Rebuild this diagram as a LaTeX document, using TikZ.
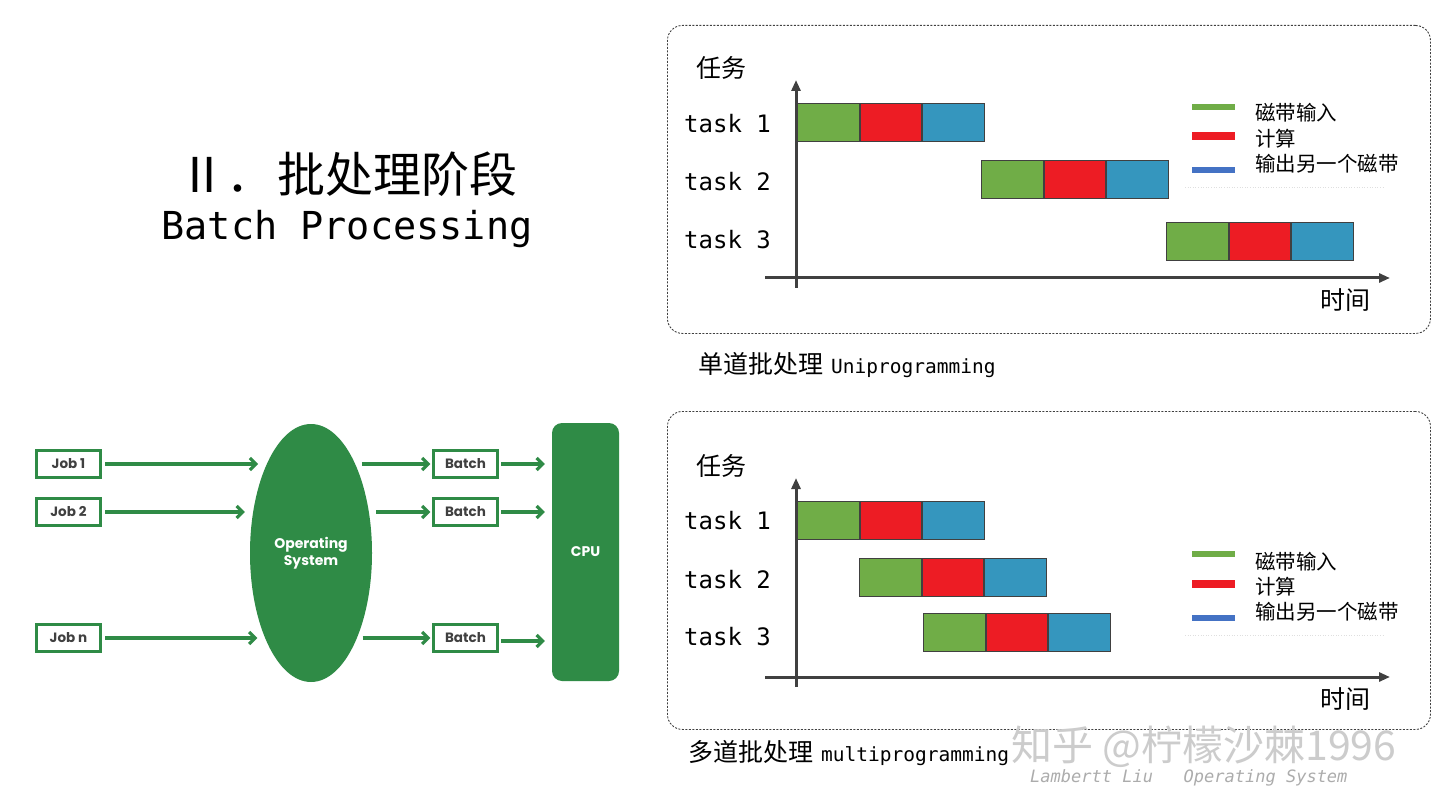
\documentclass[tikz,border=0pt]{standalone}
\usepackage{fontspec}
\setmainfont{Lato}
\newfontfamily\cjk{Noto Sans CJK SC}
\newfontfamily\mono{DejaVu Sans Mono}
\newfontfamily\uisans{Poppins}
\usetikzlibrary{arrows.meta,shapes.geometric}
\definecolor{osgreen}{RGB}{47,139,70}
\definecolor{cg}{RGB}{112,173,71}
\definecolor{cr}{RGB}{237,28,36}
\definecolor{cb}{RGB}{53,150,190}
\definecolor{lb}{RGB}{68,114,196}
\definecolor{axisc}{RGB}{64,64,64}
\newcommand\fs[1]{\fontsize{#1}{#1}\selectfont}
\tikzset{
  jobbox/.style={draw=osgreen, line width=3.2pt, minimum width=64pt, minimum height=27pt, inner sep=0pt, font=\uisans\bfseries\fs{13.5}, text=black!75},
  flow/.style={osgreen, line width=3.2pt, -{Straight Barb[length=6pt,width=12pt]}},
  seg/.style={draw=black!75, line width=1pt, minimum width=61.5pt, minimum height=38pt, inner sep=0pt},
  frame/.style={draw=black!75, line width=0.9pt, dash pattern=on 2pt off 1.5pt, rounded corners=15pt, minimum width=763pt, inner sep=0pt, anchor=north west},
  axis/.style={axisc, line width=3pt, -{Triangle[length=11pt,width=9pt]}},
  tasklbl/.style={anchor=west, inner sep=0pt, font=\mono\fs{24}},
  cjklbl/.style={inner sep=0pt, font=\cjk\fs{25}},
  legtxt/.style={anchor=west, inner sep=0pt, font=\cjk\fs{20.5}},
  legpatch/.style={minimum width=43pt, inner sep=0pt},
}
\begin{document}
\begin{tikzpicture}[x=1pt,y=-1pt]
\useasboundingbox[fill=white] (0,0) rectangle (1440,810);

% ---------- title ----------
\node[inner sep=0pt, font=\cjk\fs{48}] (title) at (348,174) {Ⅱ．\hspace{4pt}批处理阶段};
\node[inner sep=0pt, font=\mono\fs{38.5}] (subtitle) at (347,229) {Batch Processing};

% ---------- left flow diagram ----------
\node[jobbox] (j1) at (68.5,464) {Job 1};
\node[jobbox] (j2) at (68.5,512) {Job 2};
\node[jobbox] (jn) at (68.5,638) {Job n};
\node[ellipse, fill=osgreen, minimum width=122pt, minimum height=258pt, inner sep=0pt, text=white, align=center, font=\uisans\bfseries\fs{14}] (os) at (311,553) {Operating\\[3pt]System};
\node[jobbox] (b1) at (465.5,464) {Batch};
\node[jobbox] (b2) at (465.5,512) {Batch};
\node[jobbox] (bn) at (465.5,638) {Batch};
\node[fill=osgreen, rounded corners=10pt, minimum width=67pt, minimum height=258pt, inner sep=0pt, text=white, font=\uisans\bfseries\fs{14}] (cpu) at (585.5,552) {CPU};

\draw[flow, shorten <=3pt, shorten >=8pt] (j1.east) -- (j1.east -| os.117);
\draw[flow, shorten <=3pt, shorten >=8pt] (j2.east) -- (j2.east -| os.145);
\draw[flow, shorten <=3pt, shorten >=8pt] (jn.east) -- (jn.east -| os.242);
\draw[flow, shorten <=6pt, shorten >=1.5pt] (os.63 |- b1.west) -- (b1.west);
\draw[flow, shorten <=7pt, shorten >=1.5pt] (os.35 |- b2.west) -- (b2.west);
\draw[flow, shorten <=6pt, shorten >=1.5pt] (os.-62 |- bn.west) -- (bn.west);
\draw[flow, shorten <=2pt, shorten >=7pt] (b1.east) -- (b1.east -| cpu.west);
\draw[flow, shorten <=2pt, shorten >=7pt] (b2.east) -- (b2.east -| cpu.west);
\draw[flow, shorten <=2pt, shorten >=7pt] ([yshift=-3pt]bn.east) -- ([yshift=-3pt]bn.east -| cpu.west);

% ---------- chart 1: uniprogramming ----------
\node[frame, minimum height=308pt] (uframe) at (667,25) {};
\node[cjklbl] (urenwu) at (721,68) {任务};
\node[tasklbl] (ut1) at (684,124) {task 1};
\node[tasklbl] (ut2) at (684,182) {task 2};
\node[tasklbl] (ut3) at (684,240) {task 3};
\coordinate (uyb) at (796,288);
\coordinate (uyt) at (796,80);
\coordinate (uxl) at (765,278);
\coordinate (uxr) at (1390,278);
\draw[axis] (uyb) -- (uyt);
\draw[axis] (uxl) -- (uxr);
\node[seg, fill=cg, anchor=north west] (u1g) at (797,103) {};
\node[seg, fill=cr, anchor=west] (u1r) at (u1g.east) {};
\node[seg, fill=cb, anchor=west] (u1b) at (u1r.east) {};
\node[seg, fill=cg, anchor=north west] (u2g) at (981,160) {};
\node[seg, fill=cr, anchor=west] (u2r) at (u2g.east) {};
\node[seg, fill=cb, anchor=west] (u2b) at (u2r.east) {};
\node[seg, fill=cg, anchor=north west] (u3g) at (1166,222) {};
\node[seg, fill=cr, anchor=west] (u3r) at (u3g.east) {};
\node[seg, fill=cb, anchor=west] (u3b) at (u3r.east) {};
\node[legpatch, fill=cg, minimum height=6pt] (ulg) at (1213.5,107) {};
\node[legpatch, fill=cr, minimum height=8pt] (ulr) at (1213.5,136) {};
\node[legpatch, fill=lb, minimum height=6pt] (ulb) at (1213.5,170) {};
\node[legtxt] (ultg) at (1255,113) {磁带输入};
\node[legtxt] (ultr) at (1255,139) {计算};
\node[legtxt] (ultb) at (1255,164) {输出另一个磁带};
\coordinate (uda) at (1185,187);
\coordinate (udb) at (1385,187);
\draw[gray!25, dotted, line width=0.6pt] (uda) -- (udb);
\node[cjklbl] (utime) at (1345,300) {时间};
\node[anchor=west, inner sep=0pt] (ucap) at (698,365) {{\cjk\fs{25}单道批处理}\hspace{8pt}{\mono\fs{19.5}Uniprogramming}};

% ---------- chart 2: multiprogramming ----------
\node[frame, minimum height=318pt] (mframe) at (667,411) {};
\node[cjklbl] (mrenwu) at (721,466) {任务};
\node[tasklbl] (mt1) at (684,521) {task 1};
\node[tasklbl] (mt2) at (684,580) {task 2};
\node[tasklbl] (mt3) at (684,637) {task 3};
\coordinate (myb) at (796,687);
\coordinate (myt) at (796,478);
\coordinate (mxl) at (765,677);
\coordinate (mxr) at (1390,677);
\draw[axis] (myb) -- (myt);
\draw[axis] (mxl) -- (mxr);
\node[seg, fill=cg, anchor=north west] (m1g) at (797,501) {};
\node[seg, fill=cr, anchor=west] (m1r) at (m1g.east) {};
\node[seg, fill=cb, anchor=west] (m1b) at (m1r.east) {};
\node[seg, fill=cg, anchor=north west] (m2g) at (859,558) {};
\node[seg, fill=cr, anchor=west] (m2r) at (m2g.east) {};
\node[seg, fill=cb, anchor=west] (m2b) at (m2r.east) {};
\node[seg, fill=cg, anchor=north west] (m3g) at (923,613) {};
\node[seg, fill=cr, anchor=west] (m3r) at (m3g.east) {};
\node[seg, fill=cb, anchor=west] (m3b) at (m3r.east) {};
\node[legpatch, fill=cg, minimum height=6pt] (mlg) at (1213.5,554) {};
\node[legpatch, fill=cr, minimum height=8pt] (mlr) at (1213.5,584) {};
\node[legpatch, fill=lb, minimum height=6pt] (mlb) at (1213.5,617.5) {};
\node[legtxt] (mltg) at (1255,562) {磁带输入};
\node[legtxt] (mltr) at (1255,587) {计算};
\node[legtxt] (mltb) at (1255,612) {输出另一个磁带};
\coordinate (mda) at (1185,635);
\coordinate (mdb) at (1385,635);
\draw[gray!25, dotted, line width=0.6pt] (mda) -- (mdb);
\node[cjklbl] (mtime) at (1345,699) {时间};
\node[anchor=west, inner sep=0pt] (mcap) at (688,753) {{\cjk\fs{25}多道批处理}\hspace{8pt}{\mono\fs{19.5}multiprogramming}};

% ---------- watermark ----------
\node[inner sep=0pt, text=gray!40, font=\cjk\fs{41}] (wm) at (1204,747) {知乎 @柠檬沙棘1996};
\node[inner sep=0pt, text=gray!65, font=\mono\itshape\fs{17}, anchor=west] (wm2) at (1030,778) {Lambertt Liu\ \ \ Operating System};
\end{tikzpicture}
\end{document}
